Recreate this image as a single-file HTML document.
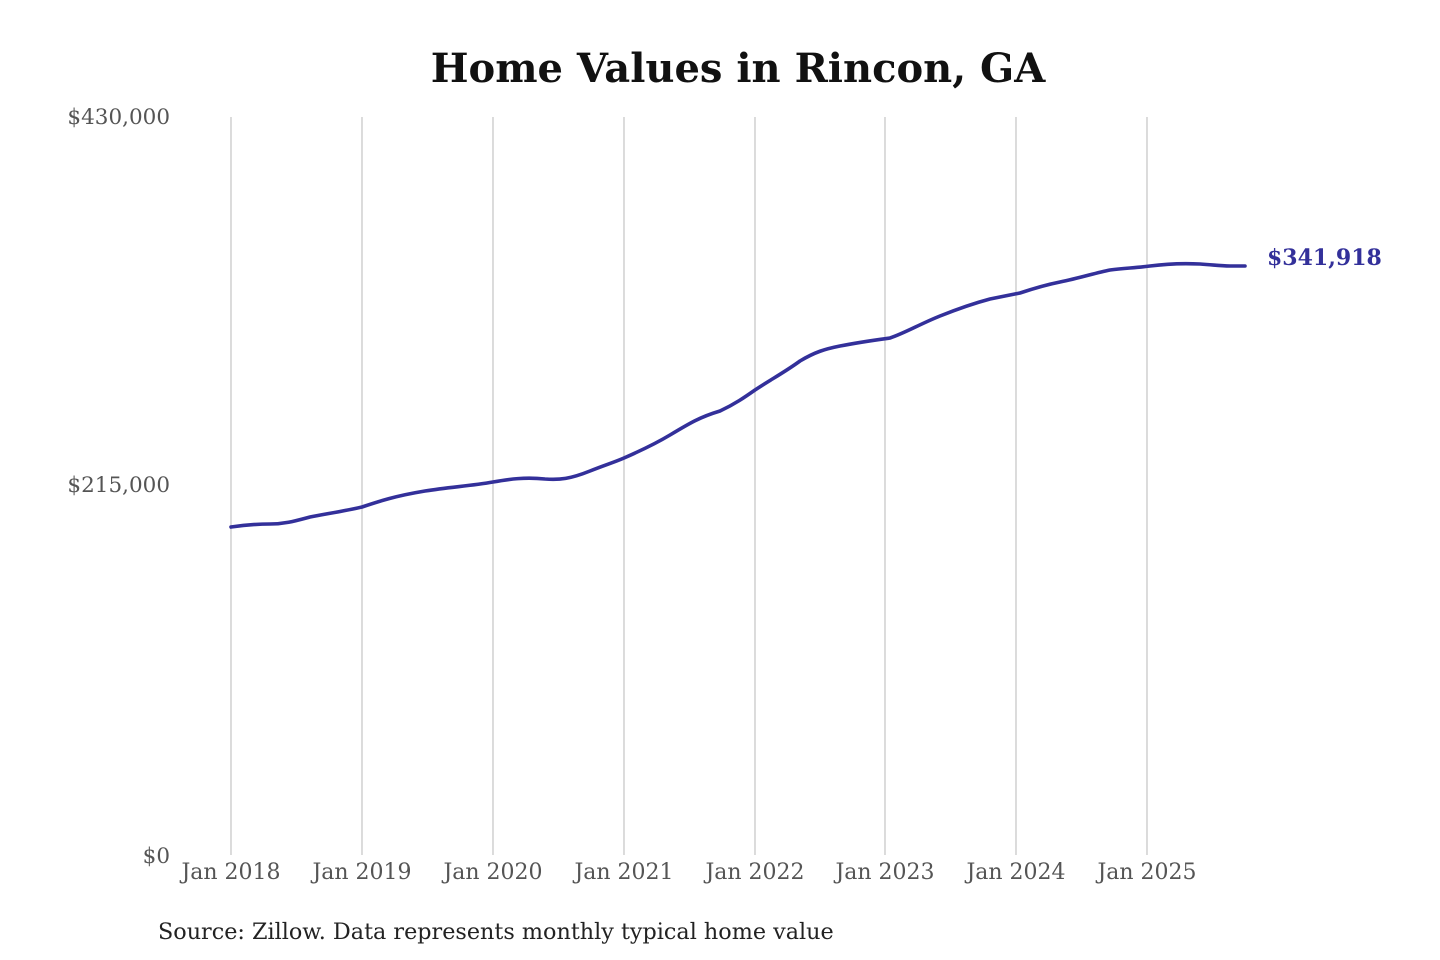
<!DOCTYPE html>
<html><head><meta charset="utf-8"><style>
html,body{margin:0;padding:0;background:#fff;width:1440px;height:960px;overflow:hidden}
svg{display:block}
</style></head><body>
<svg width="1440" height="960" xmlns="http://www.w3.org/2000/svg" font-family="'DejaVu Serif','Liberation Serif',serif">
<text x="738" y="82" text-anchor="middle" font-size="40" font-weight="bold" fill="#111">Home Values in Rincon, GA</text>
<g fill="#555" font-size="21.5" text-anchor="end">
<text x="170" y="124">$430,000</text>
<text x="170" y="492">$215,000</text>
<text x="170" y="863">$0</text>
</g>
<g stroke="#c8c8c8" stroke-width="1.3">
<line x1="231" y1="117" x2="231" y2="855"/>
<line x1="362" y1="117" x2="362" y2="855"/>
<line x1="493" y1="117" x2="493" y2="855"/>
<line x1="624" y1="117" x2="624" y2="855"/>
<line x1="755" y1="117" x2="755" y2="855"/>
<line x1="885" y1="117" x2="885" y2="855"/>
<line x1="1016" y1="117" x2="1016" y2="855"/>
<line x1="1147" y1="117" x2="1147" y2="855"/>
</g>
<g fill="#555" font-size="22" text-anchor="middle">
<text x="231" y="879">Jan 2018</text>
<text x="362" y="879">Jan 2019</text>
<text x="493" y="879">Jan 2020</text>
<text x="624" y="879">Jan 2021</text>
<text x="755" y="879">Jan 2022</text>
<text x="885" y="879">Jan 2023</text>
<text x="1016" y="879">Jan 2024</text>
<text x="1147" y="879">Jan 2025</text>
</g>
<path fill="none" stroke="#33309a" stroke-width="3.6" stroke-linejoin="round" stroke-linecap="round"
d="M231,527 C245,525 255,524 270,524 C285,524 295,521 310,517 C325,514 345,511 362,507 C380,501 395,496 425,491 C450,487 470,486 493,482 C510,479 525,477 545,479 C560,480 570,479 590,471 C605,465 615,462 624,458 C640,451 655,444 670,435 C690,423 700,417 720,411 C735,404 745,397 755,390 C770,380 785,372 800,361 C815,352 825,349 840,346 C860,342 875,340 890,338 C905,333 920,324 940,316 C960,308 975,303 990,299 C1005,296 1010,295 1020,293 C1035,288 1045,285 1060,282 C1080,278 1095,273 1110,270 C1125,268 1135,268 1150,266 C1165,264 1180,263 1200,264 C1215,265 1220,266 1230,266 L1245,266"/>
<text x="1267" y="265" font-size="22" font-weight="bold" fill="#33309a">$341,918</text>
<text x="158" y="939" font-size="22.3" fill="#222">Source: Zillow. Data represents monthly typical home value</text>
</svg>
</body></html>
